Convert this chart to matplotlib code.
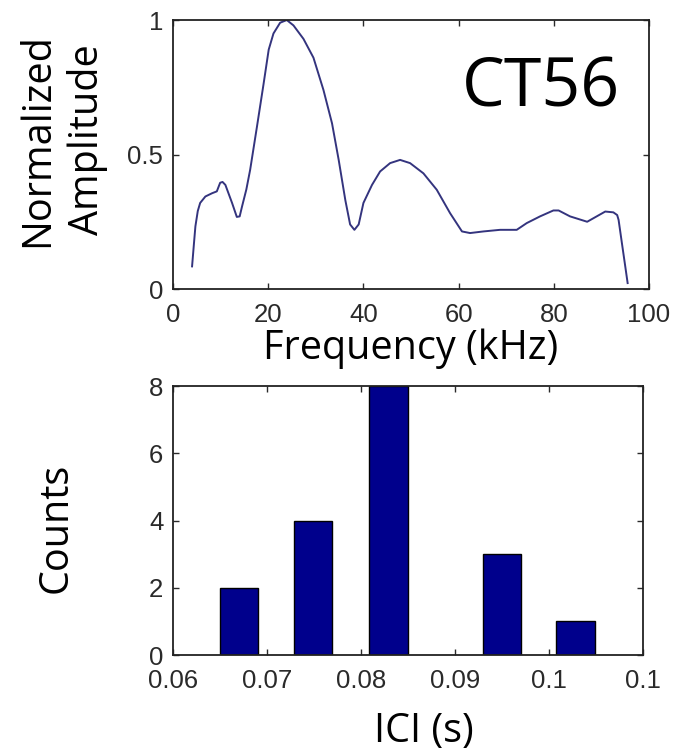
import matplotlib
matplotlib.use('Agg')
import matplotlib.pyplot as plt

# spectrum
freq_khz = [4.0, 4.4, 4.7, 5.2, 5.7, 6.8, 8.2, 9.2, 9.9, 10.4, 11.0, 12.4, 13.4, 14.0, 14.5,
            15.4, 16.2, 17.6, 19.0, 20.1, 21.1, 22.5, 23.9, 25.3, 27.4, 29.5, 31.6, 33.4,
            34.8, 36.2, 37.2, 38.1, 39.0, 40.0, 41.8, 43.5, 45.6, 47.7, 49.8, 52.6, 55.4,
            58.2, 60.7, 62.4, 65.2, 68.7, 72.2, 74.3, 77.1, 79.9, 81.0, 83.4, 87.0, 89.0,
            90.8, 92.5, 93.3, 93.6, 94.3, 95.0, 95.5]
amplitude = [0.084, 0.17, 0.233, 0.29, 0.32, 0.344, 0.356, 0.363, 0.395, 0.398, 0.387, 0.32,
             0.268, 0.27, 0.307, 0.37, 0.443, 0.60, 0.76, 0.89, 0.95, 0.99, 1.0, 0.98, 0.93,
             0.86, 0.74, 0.616, 0.48, 0.33, 0.24, 0.22, 0.24, 0.32, 0.387, 0.437, 0.468,
             0.48, 0.468, 0.43, 0.369, 0.282, 0.214, 0.208, 0.214, 0.22, 0.22, 0.245, 0.27,
             0.292, 0.292, 0.27, 0.25, 0.27, 0.288, 0.285, 0.275, 0.257, 0.17, 0.084, 0.022]

# ICI histogram
ici_centers = [0.0670, 0.0749, 0.0829, 0.0950, 0.1028]
ici_counts = [2, 4, 8, 3, 1]
ici_bar_width = 0.0041

freq_ticks = [0, 20, 40, 60, 80, 100]
amp_ticks = [0, 0.5, 1]
amp_tick_labels = ['0', '0.5', '1']
ici_ticks = [0.06, 0.07, 0.08, 0.09, 0.10, 0.11]
ici_tick_labels = ['0.06', '0.07', '0.08', '0.09', '0.1', '0.1']
count_ticks = [0, 2, 4, 6, 8]

label_font = ['Open Sans', 'DejaVu Sans']
tick_font = ['Liberation Sans', 'DejaVu Sans']

fig = plt.figure(figsize=(6.91, 7.53), dpi=100)
ax1 = fig.add_axes([0.2504, 0.6162, 0.6889, 0.3572])
ax2 = fig.add_axes([0.2504, 0.1301, 0.6802, 0.3572])


def style(ax):
    for s in ax.spines.values():
        s.set_linewidth(1.3)
        s.set_color('#222222')
    ax.tick_params(direction='in', length=4, width=1, top=True, right=True,
                   labelsize=18.5, colors='#2a2a2a', pad=7)
    ax.tick_params(axis='x', pad=10)
    for lab in ax.get_xticklabels() + ax.get_yticklabels():
        lab.set_family(tick_font)


ax1.plot(freq_khz, amplitude, color='#34347e', lw=1.4)
ax1.set_xlim(0, 100)
ax1.set_ylim(0, 1)
ax1.set_xticks(freq_ticks)
ax1.set_yticks(amp_ticks, amp_tick_labels)
style(ax1)
ax1.set_xlabel('Frequency (kHz)', family=label_font, fontsize=28.5)
ax1.set_ylabel('Normalized\nAmplitude', family=label_font, fontsize=28.5, linespacing=1.3)
ax1.xaxis.set_label_coords(0.5, -0.145)
ax1.yaxis.set_label_coords(-0.136, 0.554)
ax1.text(0.607, 0.677, 'CT56', transform=ax1.transAxes, family=label_font,
         fontsize=49, ha='left', va='baseline', color='black')

ax2.bar(ici_centers, ici_counts, width=ici_bar_width, color='#00008c',
        edgecolor='black', linewidth=1)
ax2.set_xlim(0.06, 0.11)
ax2.set_ylim(0, 8)
ax2.set_xticks(ici_ticks, ici_tick_labels)
ax2.set_yticks(count_ticks)
style(ax2)
ax2.set_xlabel('ICI (s)', family=label_font, fontsize=28.5)
ax2.set_ylabel('Counts', family=label_font, fontsize=28.5)
ax2.xaxis.set_label_coords(0.534, -0.21)
ax2.yaxis.set_label_coords(-0.205, 0.472)

fig.savefig('out.png', dpi=100)
